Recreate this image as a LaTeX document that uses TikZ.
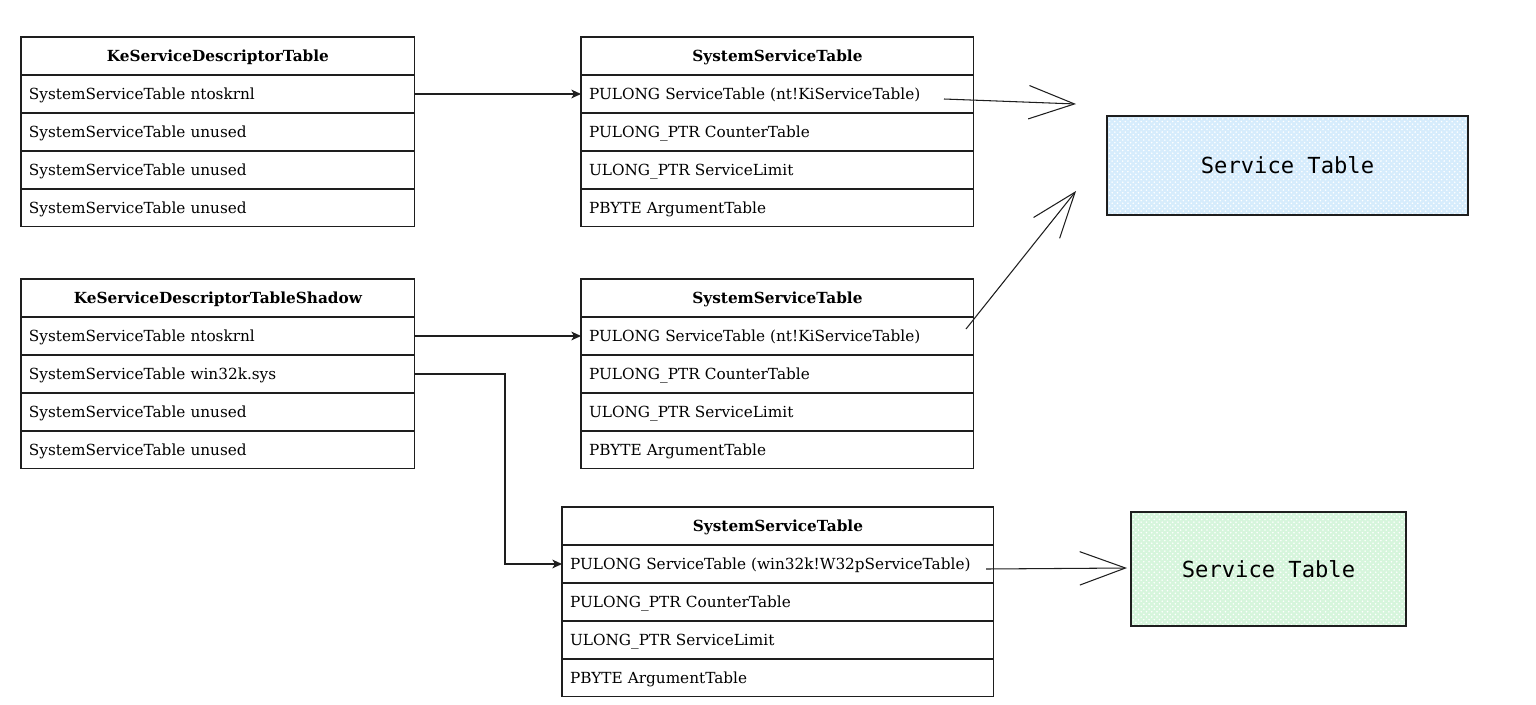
\documentclass[tikz,border=0pt]{standalone}
\usepackage{fontspec}
\setmainfont{DejaVu Serif}
\newfontfamily\stfont{DejaVu Sans Mono}
\usetikzlibrary{arrows.meta,patterns}
\definecolor{bluefill}{RGB}{214,236,252}
\definecolor{greenfill}{RGB}{214,245,220}
\definecolor{lineclr}{RGB}{30,30,30}
\newcommand\mktable[8]{%
  \node[hdr, text width=#3, anchor=north west] (#1h) at #2 {#4};
  \node[cellrow, text width=#3] (#1a) at (#1h.south west) {#5};
  \node[cellrow, text width=#3] (#1b) at (#1a.south west) {#6};
  \node[cellrow, text width=#3] (#1c) at (#1b.south west) {#7};
  \node[cellrow, text width=#3] (#1d) at (#1c.south west) {#8};
}
\tikzset{
  cellbase/.style={draw=lineclr, line width=0.6pt, rectangle, minimum height=0.76cm,
    inner xsep=0.16cm, inner ysep=0pt, outer sep=0pt, text height=8.2pt, text depth=1.8pt,
    font=\fontsize{8.7}{10}\selectfont},
  hdr/.style={cellbase, align=center, font=\fontsize{8.7}{10}\selectfont\bfseries},
  cellrow/.style={cellbase, align=left, anchor=north west},
  conn/.style={draw=lineclr, line width=0.7pt, -{Stealth[length=5.5pt,width=5pt,inset=1.5pt]}},
  sketch/.style={draw=lineclr, line width=0.6pt, -{Straight Barb[length=26pt,width=19pt,line width=0.6pt]}},
  svc/.style={draw=lineclr, line width=0.7pt, rectangle, font=\stfont\fontsize{12.6}{14}\selectfont},
}
\begin{document}
\begin{tikzpicture}[x=0.02cm, y=-0.02cm]
\useasboundingbox (0,0) rectangle (1536,704);
\mktable{ta}{(21,37)}{7.56cm}{KeServiceDescriptorTable}{SystemServiceTable ntoskrnl}{SystemServiceTable unused}{SystemServiceTable unused}{SystemServiceTable unused}
\mktable{tb}{(21,279)}{7.56cm}{KeServiceDescriptorTableShadow}{SystemServiceTable ntoskrnl}{SystemServiceTable win32k.sys}{SystemServiceTable unused}{SystemServiceTable unused}
\mktable{sa}{(581,37)}{7.54cm}{SystemServiceTable}{PULONG ServiceTable (nt!KiServiceTable)}{PULONG\_PTR CounterTable}{ULONG\_PTR ServiceLimit}{PBYTE ArgumentTable}
\mktable{sb}{(581,279)}{7.54cm}{SystemServiceTable}{PULONG ServiceTable (nt!KiServiceTable)}{PULONG\_PTR CounterTable}{ULONG\_PTR ServiceLimit}{PBYTE ArgumentTable}
\mktable{sc}{(562,507)}{8.32cm}{SystemServiceTable}{PULONG ServiceTable (win32k!W32pServiceTable)}{PULONG\_PTR CounterTable}{ULONG\_PTR ServiceLimit}{PBYTE ArgumentTable}

\node[svc, preaction={fill=bluefill}, pattern=crosshatch dots, pattern color=white, minimum width=7.22cm, minimum height=1.98cm] (stblue) at (1287.5,165.5) {Service Table};
\node[svc, preaction={fill=greenfill}, pattern=crosshatch dots, pattern color=white, minimum width=5.5cm, minimum height=2.28cm] (stgreen) at (1268.5,569) {Service Table};

\draw[conn] (taa.east) -- (saa.west);
\draw[conn] (tba.east) -- (sba.west);
\coordinate (bendx) at (505,0);
\draw[conn] (tbb.east) -- (tbb.east -| bendx) |- (sca.west);

\coordinate (s1from) at (944,99);
\coordinate (s1to) at (1076,104);
\coordinate (s2from) at (966,329);
\coordinate (s2to) at (1076,191);
\coordinate (s3from) at (986,569);
\coordinate (s3to) at (1127,568);
\draw[sketch] (s1from) -- (s1to);
\draw[sketch] (s2from) -- (s2to);
\draw[sketch] (s3from) -- (s3to);
\end{tikzpicture}
\end{document}
